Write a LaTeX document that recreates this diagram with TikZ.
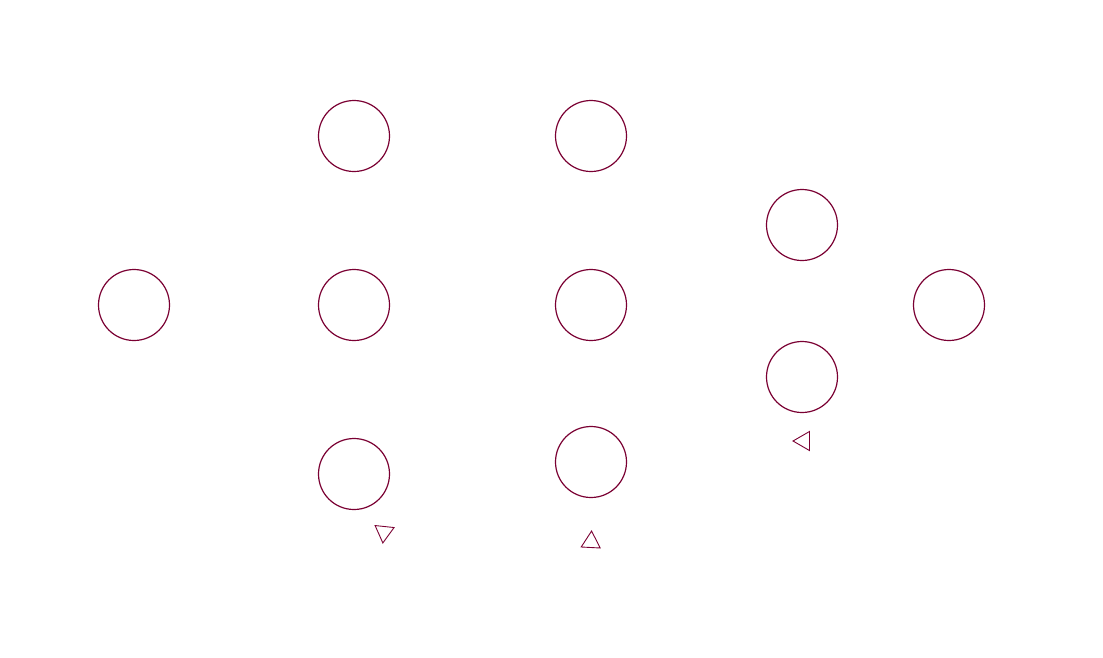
\documentclass[tikz,border=0pt]{standalone}
\usetikzlibrary{positioning,shapes.geometric}
\definecolor{unitred}{RGB}{122,0,50}

\begin{document}
\begin{tikzpicture}[
    unit/.style={circle, draw=unitred, line width=1.2pt, minimum size=71pt, inner sep=0pt},
    marker/.style={regular polygon, regular polygon sides=3, draw=unitred, line width=0.9pt, minimum size=22pt, inner sep=0pt},
    node distance=169pt and 220pt, on grid,
]
\useasboundingbox (0pt,0pt) rectangle (1103pt,-657pt);

% Input unit
\node[unit] (in) at (134pt,-305pt) {};

% First hidden layer
\node[unit, right=220pt of in] (h1b) {};
\node[unit, above=169pt of h1b] (h1a) {};
\node[unit, below=169pt of h1b] (h1c) {};

% Second hidden layer
\node[unit, right=237pt of h1b] (h2b) {};
\node[unit, above=169pt of h2b] (h2a) {};
\node[unit, below=157pt of h2b] (h2c) {};

% Third hidden layer
\node[unit, right=211pt of h2b, yshift=80pt] (h3a) {};
\node[unit, below=152pt of h3a] (h3b) {};

% Output unit
\node[unit, right=358pt of h2b] (out) {};

% Markers under the layers
\node[marker, shape border rotate=174, below=58pt of h1c, xshift=30pt] (m1) {};
\node[marker, shape border rotate=-3, below=80pt of h2c] (m2) {};
\node[marker, shape border rotate=90, below=64pt of h3b, xshift=2pt] (m3) {};

\end{tikzpicture}
\end{document}
